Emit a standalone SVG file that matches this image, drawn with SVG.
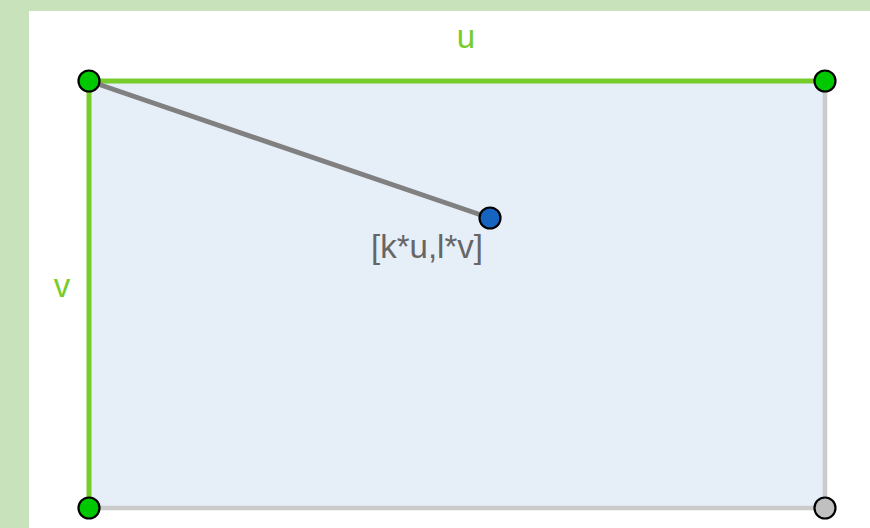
<svg xmlns="http://www.w3.org/2000/svg" width="870" height="528" viewBox="0 0 870 528">
<style>
.lbl{font-family:"Liberation Sans",Arial,sans-serif;font-size:33px}
.g{fill:#76cc2a}
.pt{stroke:#000;stroke-width:2.2}
</style>
<rect x="0" y="0" width="870" height="528" fill="#c8e2bc"/>
<rect x="29" y="11" width="841" height="517" fill="#ffffff"/>
<g id="region">
<rect x="89" y="81" width="736" height="427" fill="#e6eef8"/>
</g>
<g id="connectors">
<line x1="825" y1="81" x2="825" y2="508" stroke="#cbcbcb" stroke-width="4.5"/>
<line x1="89" y1="508" x2="825" y2="508" stroke="#cbcbcb" stroke-width="4.5"/>
<line x1="89" y1="81" x2="825" y2="81" stroke="#76cc2a" stroke-width="5"/>
<line x1="89" y1="81" x2="89" y2="508" stroke="#76cc2a" stroke-width="5"/>
<line x1="89" y1="81" x2="490" y2="218" stroke="#808080" stroke-width="5"/>
</g>
<g id="label-u"><text class="lbl g" x="466" y="48" text-anchor="middle">u</text></g>
<g id="label-v"><text class="lbl g" x="62" y="297" text-anchor="middle">v</text></g>
<g id="p-tl"><circle class="pt" cx="89" cy="81" r="10.5" fill="#00c800"/></g>
<g id="p-tr"><circle class="pt" cx="825" cy="81" r="10.5" fill="#00c800"/></g>
<g id="p-bl"><circle class="pt" cx="89" cy="508" r="10.5" fill="#00c800"/></g>
<g id="p-br"><circle class="pt" cx="825" cy="508" r="10.5" fill="#c0c0c0"/></g>
<g id="p-k"><circle class="pt" cx="490" cy="218" r="10.5" fill="#1565c0"/>
<text class="lbl" x="427" y="258" text-anchor="middle" fill="#666666">[k*u,l*v]</text></g>
</svg>
